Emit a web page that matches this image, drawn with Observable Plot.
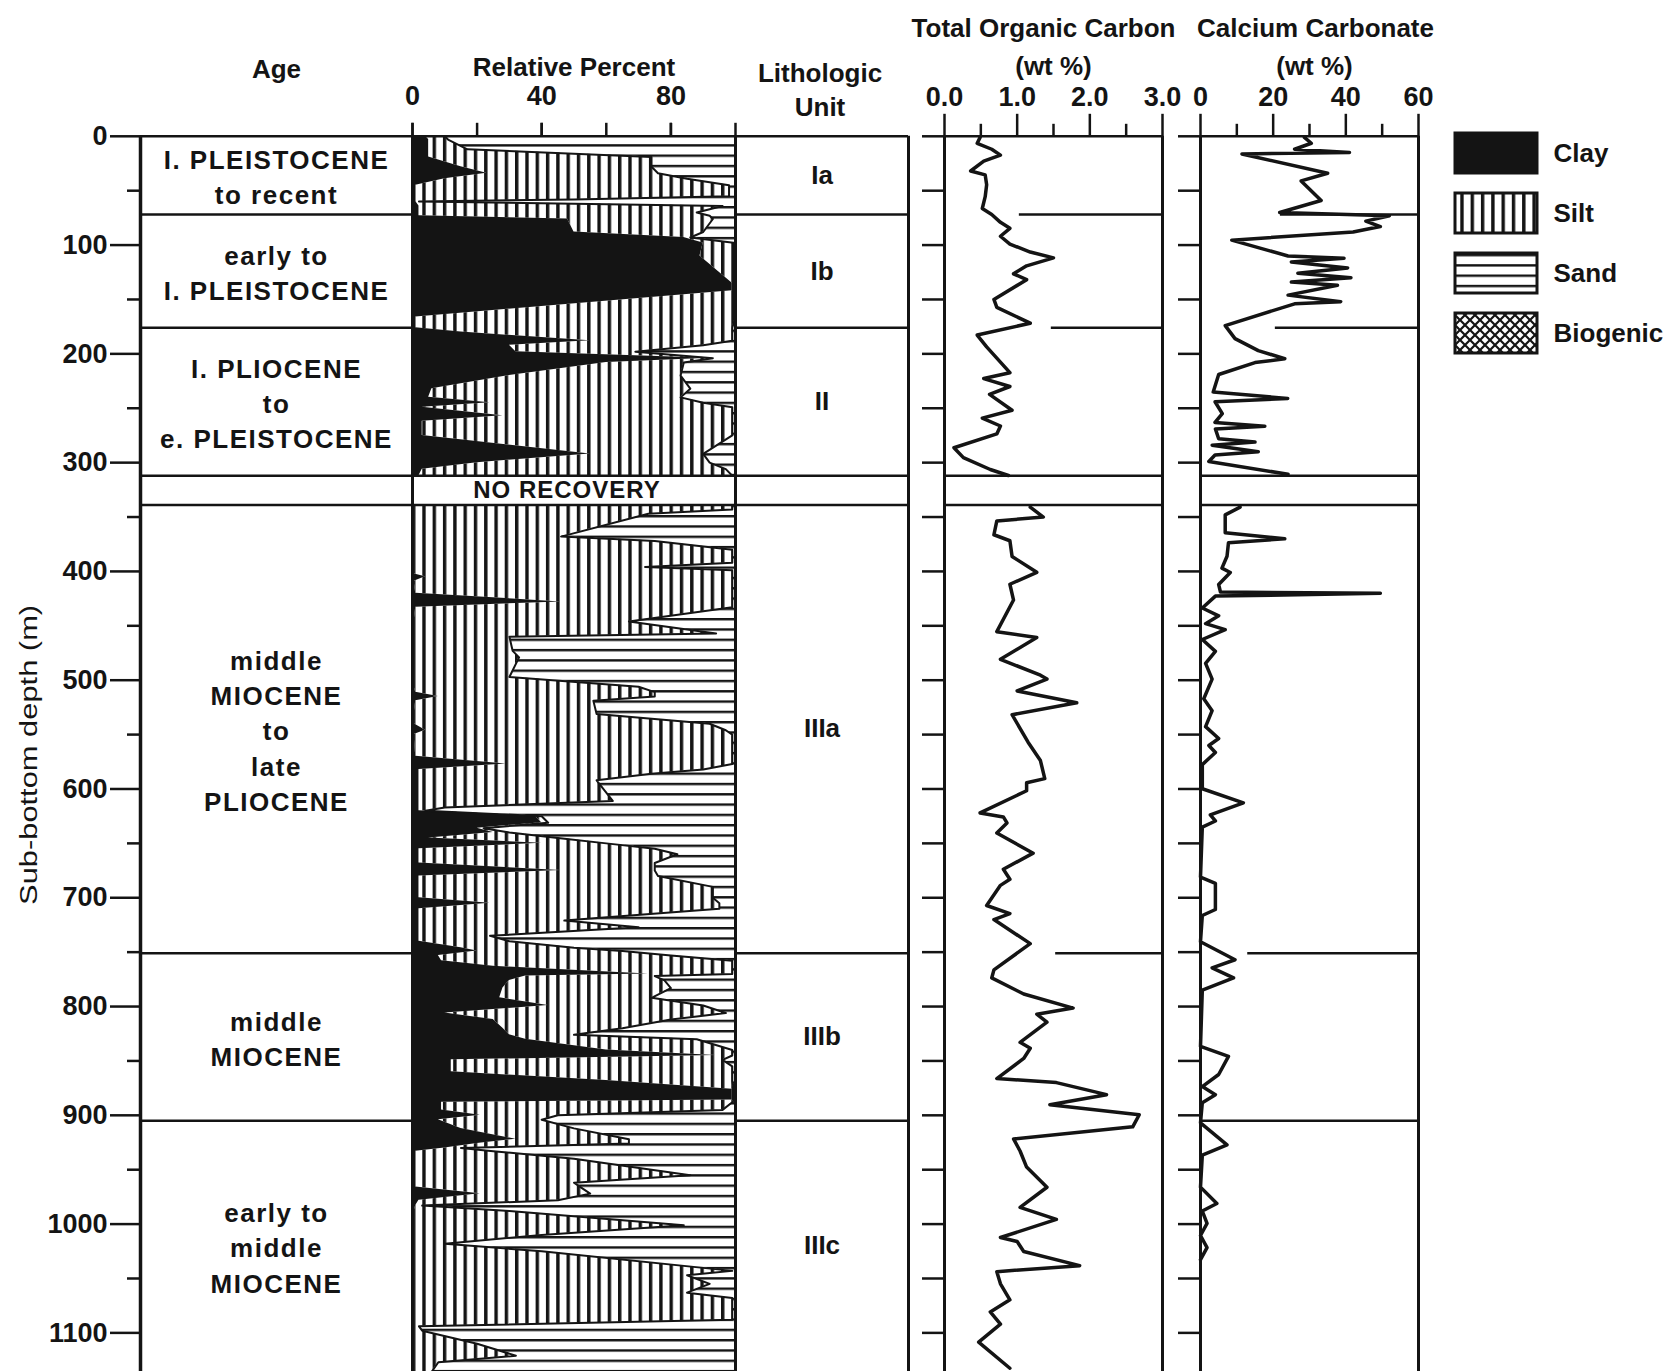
<!DOCTYPE html>
<html>
<head>
<meta charset="utf-8">
<script src="https://cdn.jsdelivr.net/npm/d3@7"></script>
<script src="https://cdn.jsdelivr.net/npm/@observablehq/plot@0.6"></script>
<style>
html,body{margin:0;padding:0;background:#fff;}
#wrap{position:relative;width:1665px;height:1371px;overflow:hidden;background:#fff;}
#wrap svg.panel{position:absolute;left:0;top:0;}
#wrap svg.legend{position:absolute;left:1450px;top:120px;}
</style>
</head>
<body>
<div id="wrap">
<svg width="0" height="0" style="position:absolute;left:0;top:0">
 <defs>
  <pattern id="pSilt" patternUnits="userSpaceOnUse" width="10.3" height="10">
    <rect width="10.3" height="10" fill="#fff"/>
    <rect x="0" y="0" width="3.4" height="10" fill="#141414"/>
  </pattern>
  <pattern id="pSand" patternUnits="userSpaceOnUse" width="10" height="10.3">
    <rect width="10" height="10.3" fill="#fff"/>
    <rect x="0" y="0" width="10" height="2.4" fill="#141414"/>
  </pattern>
  <pattern id="pBio" patternUnits="userSpaceOnUse" width="10" height="10">
    <rect width="10" height="10" fill="#fff"/>
    <path d="M-2,-2L12,12M12,-2L-2,12" stroke="#141414" stroke-width="2.2"/>
  </pattern>
 </defs>
</svg>
</div>
<script>
// ================= DATA =================
const depthMajor = [0,100,200,300,400,500,600,700,800,900,1000,1100];
const depthMinor = [50,150,250,350,450,550,650,750,850,950,1050];
const depthAll = [0,50,100,150,200,250,300,350,400,450,500,550,600,650,700,750,800,850,900,950,1000,1050,1100];
const depthMax = 1135.5;

const unitTop    = [0, 72, 176, 339, 751, 905];
const unitBottom = [72, 176, 312, 751, 905, 1135.5];
const ageLabels = [
  "I. PLEISTOCENE\nto recent",
  "early to\nI. PLEISTOCENE",
  "I. PLIOCENE\nto\ne. PLEISTOCENE",
  "middle\nMIOCENE\nto\nlate\nPLIOCENE",
  "middle\nMIOCENE",
  "early to\nmiddle\nMIOCENE"
];
const lithUnits = ["Ia", "Ib", "II", "IIIa", "IIIb", "IIIc"];
const unitBounds = [0, 72, 176, 312, 339, 751, 905];
const noRecoveryTop = 312, noRecoveryBottom = 339;
const noRecoveryLabel = "NO RECOVERY";

const pctTicks = [0, 20, 40, 60, 80, 100];
const pctLabels = [0, 40, 80];
const tocMajor = [0, 1, 2, 3];
const tocMinor = [0.5, 1.5, 2.5];
const caMajor = [0, 20, 40, 60];
const caMinor = [10, 30, 50];

// Relative percent: clay (cumulative from 0) and clay+silt (cumulative); sand is the remainder to 100
const pctDepth = [0,3,12,19,28,34,39,45,55,58,60,64,70,73,76,88,93,98,110,135,142,166,176,180,188,192,198,204,208,220,232,240,245,249,257,262,275,292,300,306,312,
  339,343,347,368,372,380,392,396,399,402,405,409,420,428,433,446,457,460,473,479,497,506,511,515,519,531,540,546,550,570,577,582,586,592,611,617,620,625,631,636,640,645,650,655,660,668,675,680,690,700,705,710,721,727,735,740,746,749,753,758,763,770,772,776,783,792,799,806,812,820,826,830,840,845,849,855,860,868,876,886,888,895,900,904,912,922,926,930,933,940,955,962,966,972,978,983,988,1001,1010,1018,1025,1043,1047,1055,1063,1068,1088,1094,1098,1110,1121,1127,1135.5];
const clayPct = [4,5,5,5,15,23,10,1,1,1,1,2,2,2,48,50,84,90,89,99,99,1,1,15,55,30,32,92,60,30,6,5,24,3,28,3,3,55,20,3,2,
  0,0,0,0,0,0,0,0,0,0,4,0.5,1,46,1,0.5,0.5,0.5,0.5,0.5,0.5,0.5,1,8,1,0.5,0.5,4,0.5,1,29,2,2,2,2,2,2,38,40,20,25,5,40,2,2,2,46,2,2,2,24,2,2,2,2,2,15,20,8,9,25,73,35,30,28,27,42,10,25,28,30,35,60,94,12,12,12,60,99,99,9,9,21,8,15,32,20,10,1,1,1,1,1,21,2,1,0.5,0,0,0,0,0,0,0,0,0,0,0,0,0,0,0,0];
const claySiltPct = [10,11,17,74,74,76,85,98,98,50,2,96,88,92,93,90,86,100,100,100,100,100,99,99,99,90,69,93,84,83,86,83,90,99,99,99,99,90,92,97,99,
  99,99,73,46,75,99,99,72,99,99,99,99,99,99,99,67,94,30,31,33,30,70,75,75,56,57,92,97,99,99,99,90,74,57,62,10,4,40,42,22,30,45,60,75,82,75,75,76,93,93,95,95,47,70,24,30,50,65,80,99,99,99,75,78,80,74,90,97,80,65,50,88,99,99,96,99,99,99,99.5,99.5,99,96,45,40,50,67,67,15,25,50,86,50,52,55,45,3,30,84,40,10,40,99,85,92,85,99,99,2,3,20,32,8,6];

// Total organic carbon (wt %)
const tocDepth = [1,6.4,11.9,17.3,22.8,31.9,35.5,44.6,55.5,66.4,71.9,79.1,84.6,91.9,99.1,106.4,111.8,119.1,126.4,131.8,150,157.3,171.8,182.7,193.6,217.3,222.7,230,237.3,251.8,259.1,266.3,273.6,286.3,295.4,306.3,311.8,
  340.9,350,353.6,366.3,371.8,386.3,400.8,411.8,426.3,455.4,460.8,480.8,495.4,499,509.9,520.8,531.7,557,573.9,590.5,594.2,601.6,622,625.7,631.2,640.5,659,673.8,683,688.6,707.1,714.5,720,742.2,766.3,773.7,788.5,801.4,807,814.4,832.9,838.4,847.7,866.2,869.9,881,890.2,899.5,910.6,921.7,932.8,947.6,966.1,984.6,995.7,1012.3,1016,1025.2,1038.2,1043.7,1054.9,1069.6,1080.7,1091.9,1108.5,1132.5];
const tocValue = [0.49,0.45,0.65,0.77,0.54,0.36,0.56,0.58,0.56,0.52,0.65,0.77,0.90,0.77,0.90,1.18,1.50,1.13,0.95,1.13,0.68,0.72,1.18,0.45,0.58,0.90,0.54,0.90,0.62,0.93,0.52,0.77,0.72,0.13,0.26,0.63,0.88,
  1.18,1.36,0.72,0.68,0.90,0.93,1.27,0.90,0.95,0.72,1.27,0.77,1.32,1.41,1.00,1.82,0.93,1.15,1.32,1.38,1.13,1.13,0.49,0.81,0.86,0.72,1.22,0.81,0.90,0.77,0.58,0.90,0.68,1.18,0.68,0.65,1.09,1.77,1.27,1.41,1.04,1.18,1.09,0.72,1.54,2.23,1.45,2.68,2.59,0.95,1.04,1.13,1.41,1.04,1.54,0.77,1.00,1.09,1.86,0.72,0.77,0.90,0.63,0.77,0.47,0.90];

// Calcium carbonate (wt %)
const caDepth = [1,6.4,11.9,14.8,16.2,34,41,59,70,73,78,83,88,95.5,110,112,115.5,121,126,130,134,137,146,152,154,174,186,197,204.5,208,219,235,241,244,255,263,266.5,269,278,281,284,290,293,299,310.7,
  340.9,348,364.5,370,373.6,386,397,401,412,419,420.1,422.7,433.6,440.8,448,453.5,462.6,473.5,484.5,499,517,528,542.7,553.6,560,566.5,577.6,599.8,612.7,623.8,629.4,635,681,686.7,710.8,716.3,740.4,757,764.4,773.7,784.8,836.6,845.8,862.5,873.6,881,888.4,906.9,927.2,936.5,966,981,988,999.4,1010.5,1021.6,1032.6];
const caValue = [28.6,30.5,25.9,41,11.4,35,27.7,33.2,21.8,52,45.5,49.5,42,8.6,24.1,39.5,25,40.5,26.8,41.4,25,37.7,24.1,38.6,25.9,6.8,9.5,15.9,23.2,15,5,3.5,24,4,6,4,17.7,4.1,5,15,3.2,15.9,4,2.3,24.1,
  10.9,6.8,6.8,23.2,7.7,7.3,5.9,8.2,5,5.5,49.5,4.1,0.5,5,1.4,6.8,0.5,4.1,1.4,3.2,0.9,3.2,1.4,5,2.3,4.1,0.5,0.5,11.8,2.7,4.1,0.5,0,4.1,4.1,0.5,0,9.5,3.2,9.1,0.5,0,7.7,5,0.5,4.1,0.5,0,7.3,0.5,0,4.5,0.5,1.8,0,1.8,0];

// partial unit-boundary lines drawn inside the geochemistry panels
const tocBoundDepth = [72, 176, 751];
const tocBoundFrom = [1.03, 1.47, 1.53];
const caBoundDepth = [72, 176, 751, 905];
const caBoundFrom = [22, 20.6, 13, 0];

const legendNames = ["Clay", "Silt", "Sand", "Biogenic"];

// ================= STYLE / LAYOUT =================
const INK = "#141414";
const W = 1665, H = 1371, Y0 = 135.8;
const STYLE = "background:transparent;font-family:'Liberation Sans',Arial,Helvetica,sans-serif;color:#141414;overflow:visible;";
const legendFill = {Clay: INK, Silt: "url(#pSilt)", Sand: "url(#pSand)", Biogenic: "url(#pBio)"};
const wrap = document.getElementById("wrap");

const splitDepth = (noRecoveryTop + noRecoveryBottom) / 2;
const seg = d => d < splitDepth ? "upper" : "lower";
const pctRows = pctDepth.map((d, i) => ({depth: d, clay: clayPct[i], cs: claySiltPct[i], seg: seg(d)}));
const tocRows = tocDepth.map((d, i) => ({depth: d, v: tocValue[i], seg: seg(d)}));
const caRows = caDepth.map((d, i) => ({depth: d, v: caValue[i], seg: seg(d)}));
const units = unitTop.map((t, i) => ({top: t, bottom: unitBottom[i], age: ageLabels[i], lith: lithUnits[i]}));
const noRec = [{top: noRecoveryTop, bottom: noRecoveryBottom, label: noRecoveryLabel}];
const tocBounds = tocBoundDepth.map((d, i) => ({depth: d, from: tocBoundFrom[i]}));
const caBounds = caBoundDepth.map((d, i) => ({depth: d, from: caBoundFrom[i]}));
const frameBounds = [0, noRecoveryTop, noRecoveryBottom];

const bold = {fontWeight: "bold", fill: INK};
const head = {frameAnchor: "top", lineAnchor: "middle", textAnchor: "middle", fontSize: 26, fontWeight: "bold", fill: INK};

function panel(left, right, xDomain, marks) {
  const svg = Plot.plot({
    width: W, height: H,
    marginTop: Y0, marginBottom: 0, marginLeft: left, marginRight: W - right,
    x: {domain: xDomain, range: [left, right], axis: null},
    y: {domain: [0, depthMax], range: [Y0, H], axis: null},
    style: STYLE,
    marks
  });
  svg.classList.add("panel");
  wrap.appendChild(svg);
  return svg;
}

// ---- depth axis + "Age" header
const axisSvg = panel(140, 412, [0, 1], [
  Plot.axisY({ticks: depthMajor, tickSize: 30, tickPadding: 3, tickFormat: d => String(d), fontSize: 27, ...bold, stroke: INK, strokeWidth: 2.5, label: null}),
  Plot.axisY({ticks: depthMinor, tickSize: 13, tickFormat: () => "", stroke: INK, strokeWidth: 2.5, label: null}),
  Plot.text(["Sub-bottom depth (m)"], {frameAnchor: "left", textAnchor: "middle", lineAnchor: "middle", rotate: -90, dx: -111, dy: 1, fontSize: 23, fill: INK}),
  Plot.text(["Age"], {...head, dy: -67})
]);
d3.select(axisSvg).selectAll("text").filter(function() { return this.textContent === "Sub-bottom depth (m)"; })
  .attr("textLength", 300).attr("lengthAdjust", "spacingAndGlyphs");

// ---- age column
const ageSvg = panel(140, 412, [0, 1], [
  Plot.ruleX([0], {stroke: INK, strokeWidth: 3.5}),
  Plot.ruleY(unitBounds, {stroke: INK, strokeWidth: 2.5}),
  Plot.text(units, {x: 0.5, y: d => (d.top + d.bottom) / 2, text: "age", fontSize: 26, lineHeight: 1.36, ...bold})
]);
d3.select(ageSvg).selectAll('g[aria-label="text"] text').style("letter-spacing", "1.5px");

// ---- relative percent
const pctSvg = panel(412, 735, [0, 100], [
  Plot.areaX(pctRows, {y: "depth", x1: "cs", x2: 100, z: "seg", fill: "url(#pSand)"}),
  Plot.areaX(pctRows, {y: "depth", x1: "clay", x2: "cs", z: "seg", fill: "url(#pSilt)"}),
  Plot.areaX(pctRows, {y: "depth", x1: 0, x2: "clay", z: "seg", fill: INK}),
  Plot.lineX(pctRows, {x: "cs", y: "depth", z: "seg", stroke: INK, strokeWidth: 2}),
  Plot.rect(noRec, {x1: 0, x2: 100, y1: "top", y2: "bottom", fill: "white"}),
  Plot.ruleY(frameBounds, {stroke: INK, strokeWidth: 2.5}),
  Plot.ruleX([0, 100], {stroke: INK, strokeWidth: 3}),
  Plot.text(noRec, {x: 50, y: d => (d.top + d.bottom) / 2, text: "label", dx: -7, fontSize: 24, ...bold}),
  Plot.axisX({anchor: "top", ticks: pctTicks, tickSize: 14, tickFormat: () => "", stroke: INK, strokeWidth: 2.5, label: null}),
  Plot.axisX({anchor: "top", ticks: pctLabels, tickSize: 14, tickPadding: 17, fontSize: 27, ...bold, stroke: INK, strokeWidth: 2.5, label: null}),
  Plot.text(["Relative Percent"], {...head, dy: -69})
]);
d3.select(pctSvg).selectAll("text").filter(function() { return this.textContent === noRecoveryLabel; })
  .style("letter-spacing", "1px");

// ---- lithologic unit
panel(735, 908, [0, 1], [
  Plot.ruleY(unitBounds, {stroke: INK, strokeWidth: 2.5}),
  Plot.ruleX([1], {stroke: INK, strokeWidth: 3}),
  Plot.text(units, {x: 0.5, y: d => (d.top + d.bottom) / 2, text: "lith", fontSize: 26, ...bold}),
  Plot.text(["Lithologic"], {...head, dx: -2, dy: -63}),
  Plot.text(["Unit"], {...head, dx: -2, dy: -29})
]);

// ---- total organic carbon
panel(944, 1162, [0, 3], [
  Plot.ruleY(frameBounds, {stroke: INK, strokeWidth: 2.5}),
  Plot.ruleY(tocBounds, {y: "depth", x1: "from", x2: 3, stroke: INK, strokeWidth: 2.5}),
  Plot.ruleX([0, 3], {stroke: INK, strokeWidth: 3}),
  Plot.lineX(tocRows, {x: "v", y: "depth", z: "seg", stroke: INK, strokeWidth: 3.5}),
  Plot.axisY({ticks: depthAll, tickSize: 22, tickFormat: () => "", stroke: INK, strokeWidth: 2.5, label: null}),
  Plot.axisX({anchor: "top", ticks: tocMajor, tickSize: 23, tickPadding: 7, tickFormat: d3.format(".1f"), fontSize: 27, ...bold, stroke: INK, strokeWidth: 2.5, label: null}),
  Plot.axisX({anchor: "top", ticks: tocMinor, tickSize: 13, tickFormat: () => "", stroke: INK, strokeWidth: 2.5, label: null}),
  Plot.text(["Total Organic Carbon"], {...head, dx: -10, dy: -108}),
  Plot.text(["(wt %)"], {...head, dx: 0, dy: -70})
]);

// ---- calcium carbonate
panel(1200, 1418, [0, 60], [
  Plot.ruleY(frameBounds, {stroke: INK, strokeWidth: 2.5}),
  Plot.ruleY(caBounds, {y: "depth", x1: "from", x2: 60, stroke: INK, strokeWidth: 2.5}),
  Plot.ruleX([0, 60], {stroke: INK, strokeWidth: 3}),
  Plot.lineX(caRows, {x: "v", y: "depth", z: "seg", stroke: INK, strokeWidth: 3.5}),
  Plot.axisY({ticks: depthAll, tickSize: 22, tickFormat: () => "", stroke: INK, strokeWidth: 2.5, label: null}),
  Plot.axisX({anchor: "top", ticks: caMajor, tickSize: 23, tickPadding: 7, fontSize: 27, ...bold, stroke: INK, strokeWidth: 2.5, label: null}),
  Plot.axisX({anchor: "top", ticks: caMinor, tickSize: 13, tickFormat: () => "", stroke: INK, strokeWidth: 2.5, label: null}),
  Plot.text(["Calcium Carbonate"], {...head, dx: 6, dy: -108}),
  Plot.text(["(wt %)"], {...head, dx: 5, dy: -70})
]);

// ---- legend
const leg = Plot.plot({
  width: 215, height: 250, margin: 0,
  x: {domain: [0, 1], range: [5, 87], axis: null},
  y: {type: "band", domain: legendNames, range: [3, 243], paddingInner: 1 / 3, paddingOuter: 1 / 6, axis: null},
  color: {type: "identity"},
  style: STYLE,
  marks: [
    Plot.barX(legendNames, {x1: 0, x2: 1, y: d => d, fill: d => legendFill[d], stroke: INK, strokeWidth: 3}),
    Plot.text(legendNames, {x: 1, y: d => d, text: d => d, textAnchor: "start", dx: 16, fontSize: 26, ...bold})
  ]
});
leg.classList.add("legend");
wrap.appendChild(leg);
</script>
</body>
</html>
